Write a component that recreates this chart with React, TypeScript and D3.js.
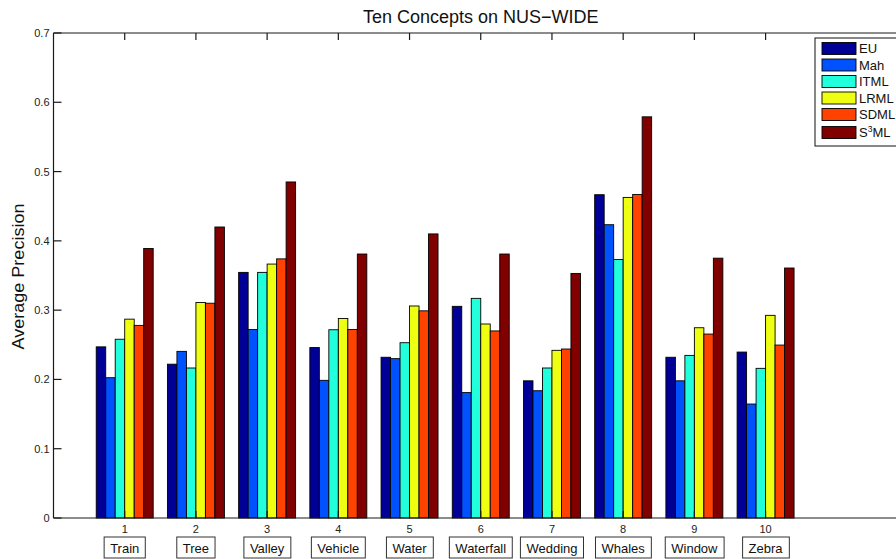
import React, { useEffect, useRef } from "react";
import * as d3 from "d3";

const categories = ["Train", "Tree", "Valley", "Vehicle", "Water", "Waterfall", "Wedding", "Whales", "Window", "Zebra"];
const seriesNames = ["EU", "Mah", "ITML", "LRML", "SDML", "S3ML"];
const EU = [0.247, 0.222, 0.3545, 0.246, 0.232, 0.3055, 0.198, 0.4666, 0.232, 0.2395];
const Mah = [0.2025, 0.2405, 0.272, 0.1987, 0.23, 0.181, 0.1837, 0.4233, 0.198, 0.1645];
const ITML = [0.258, 0.2165, 0.3545, 0.2717, 0.253, 0.317, 0.2165, 0.373, 0.2347, 0.216];
const LRML = [0.287, 0.311, 0.3665, 0.288, 0.306, 0.28, 0.242, 0.4627, 0.2746, 0.2925];
const SDML = [0.278, 0.31, 0.374, 0.272, 0.299, 0.27, 0.2439, 0.467, 0.2655, 0.2496];
const S3ML = [0.389, 0.42, 0.485, 0.381, 0.41, 0.381, 0.353, 0.579, 0.375, 0.3608];
const seriesValues = [EU, Mah, ITML, LRML, SDML, S3ML];
const colors = ["#000096", "#0052FF", "#22FFDD", "#EEFF12", "#FF4200", "#800000"];
const yTicks = [0, 0.1, 0.2, 0.3, 0.4, 0.5, 0.6, 0.7];
const xTicks = [1, 2, 3, 4, 5, 6, 7, 8, 9, 10];

export default function App() {
  const ref = useRef<SVGSVGElement>(null);
  useEffect(() => {
    const svg = d3.select(ref.current);
    svg.selectAll("*").remove();
    const font = "'Liberation Sans', Arial, Helvetica, sans-serif";
    const left = 53.5, right = 908, top = 33, bottom = 518;
    const x = d3.scaleLinear().domain([0, 12]).range([left, right]);
    const y = d3.scaleLinear().domain([0, 0.7]).range([bottom, top]);
    const unit = x(1) - x(0);
    const groupW = unit * 0.8;
    const barW = groupW / seriesNames.length;

    // bars
    seriesValues.forEach((vals, si) => {
      svg.append("g").selectAll("rect").data(vals).join("rect")
        .attr("x", (_d, i) => x(i + 1) - groupW / 2 + si * barW)
        .attr("y", (d) => y(d))
        .attr("width", barW)
        .attr("height", (d) => y(0) - y(d))
        .attr("fill", colors[si])
        .attr("stroke", "#000")
        .attr("stroke-width", 0.9);
    });

    // axes box
    const ax = svg.append("g").attr("stroke", "#1a1a1a").attr("stroke-width", 1.2).attr("fill", "none");
    ax.append("line").attr("x1", left).attr("x2", right).attr("y1", bottom).attr("y2", bottom);
    ax.append("line").attr("x1", left).attr("x2", right).attr("y1", top).attr("y2", top);
    ax.append("line").attr("x1", left).attr("x2", left).attr("y1", top).attr("y2", bottom);
    ax.append("line").attr("x1", right).attr("x2", right).attr("y1", top).attr("y2", bottom);

    // y ticks
    yTicks.forEach((t) => {
      ax.append("line").attr("x1", left).attr("x2", left + 8).attr("y1", y(t)).attr("y2", y(t));
      svg.append("text").attr("x", left - 4).attr("y", y(t) + 4)
        .attr("text-anchor", "end").attr("font-family", font).attr("font-size", 11).attr("fill", "#222")
        .text(t === 0 ? "0" : d3.format(".1f")(t));
    });
    // x ticks
    xTicks.forEach((t) => {
      ax.append("line").attr("x1", x(t)).attr("x2", x(t)).attr("y1", top).attr("y2", top + 7);
      ax.append("line").attr("x1", x(t)).attr("x2", x(t)).attr("y1", bottom).attr("y2", bottom - 7);
      svg.append("text").attr("x", x(t)).attr("y", bottom + 15)
        .attr("text-anchor", "middle").attr("font-family", font).attr("font-size", 11).attr("fill", "#222")
        .text(String(t));
    });

    // category boxes
    categories.forEach((c, i) => {
      const g = svg.append("g");
      const txt = g.append("text").attr("x", x(i + 1)).attr("y", 553)
        .attr("text-anchor", "middle").attr("font-family", font).attr("font-size", 13).attr("fill", "#111")
        .text(c);
      const bb = (txt.node() as SVGTextElement).getBBox();
      g.insert("rect", "text").attr("x", bb.x - 6).attr("y", 537).attr("width", bb.width + 12).attr("height", 21)
        .attr("fill", "#fff").attr("stroke", "#333").attr("stroke-width", 1);
    });

    // title
    svg.append("text").attr("x", (left + right) / 2).attr("y", 23).attr("text-anchor", "middle")
      .attr("font-family", font).attr("font-size", 18).attr("fill", "#111")
      .text("Ten Concepts on NUS\u2212WIDE");

    // y label
    svg.append("text").attr("transform", `translate(24,${(top + bottom) / 2 + 1}) rotate(-90)`)
      .attr("text-anchor", "middle").attr("font-family", font).attr("font-size", 16.5).attr("fill", "#111")
      .attr("textLength", 146).attr("lengthAdjust", "spacingAndGlyphs")
      .text("Average Precision");

    // legend
    const lg = svg.append("g");
    lg.append("rect").attr("x", 815).attr("y", 38).attr("width", 100).attr("height", 108)
      .attr("fill", "#fff").attr("stroke", "#111").attr("stroke-width", 1);
    seriesNames.forEach((n, i) => {
      const cy = 48.5 + i * 16.5 + (i === 5 ? 1.5 : 0);
      lg.append("rect").attr("x", 822).attr("y", cy - 6).attr("width", 34).attr("height", 12)
        .attr("fill", colors[i]).attr("stroke", "#000").attr("stroke-width", 0.9);
      const t = lg.append("text").attr("x", 859).attr("y", cy + 4.5)
        .attr("font-family", font).attr("font-size", 13).attr("fill", "#111");
      if (n === "S3ML") {
        t.append("tspan").text("S");
        t.append("tspan").attr("font-size", 8.5).attr("dy", -5).text("3");
        t.append("tspan").attr("dy", 5).text("ML");
      } else {
        t.text(n);
      }
    });
  }, []);
  return (
    <svg ref={ref} width={896} height={559}
      style={{ position: "absolute", left: 0, top: 0, background: "#fff" }} />
  );
}
